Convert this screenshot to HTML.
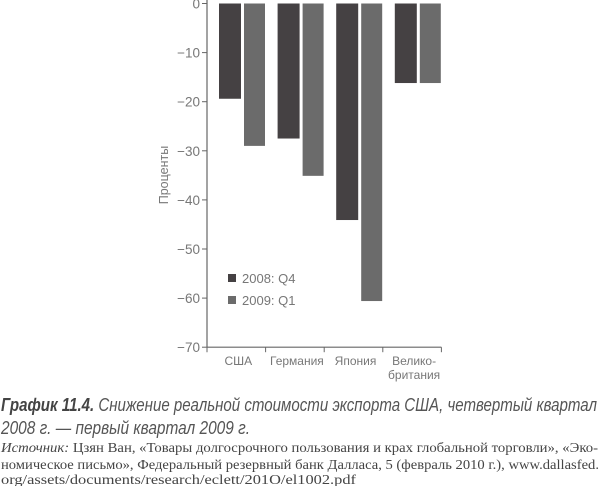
<!DOCTYPE html>
<html><head><meta charset="utf-8"><style>
body{margin:0;width:600px;height:486px;background:#fff;overflow:hidden}
svg text{font-family:"Liberation Sans","DejaVu Sans",sans-serif}
svg text.serif{font-family:"Liberation Serif",serif}
</style></head><body>
<svg id="chart" width="600" height="486" style="position:absolute;left:0;top:0">
<text x="1" y="411" font-size="18" font-style="italic" fill="#555" textLength="596" lengthAdjust="spacingAndGlyphs"><tspan font-weight="bold" fill="#444">График 11.4.</tspan> Снижение реальной стоимости экспорта США, четвертый квартал</text>
<text x="1" y="434" font-size="18" font-style="italic" fill="#555" textLength="249" lengthAdjust="spacingAndGlyphs">2008 г. — первый квартал 2009 г.</text>
<text class="serif" x="1" y="452" font-size="14" fill="#444" textLength="597" lengthAdjust="spacingAndGlyphs"><tspan font-style="italic">Источник:</tspan> Цзян Ван, «Товары долгосрочного пользования и крах глобальной торговли», «Эко-</text>
<text class="serif" x="1" y="469" font-size="14" fill="#444" textLength="598" lengthAdjust="spacingAndGlyphs">номическое письмо», Федеральный резервный банк Далласа, 5 (февраль 2010 г.), www.dallasfed.</text>
<text class="serif" x="1" y="484" font-size="14" fill="#444" textLength="355" lengthAdjust="spacingAndGlyphs">org/assets/documents/research/eclett/201O/el1002.pdf</text>
</svg>
<script>
const categories=[["США"],["Германия"],["Япония"],["Велико-","британия"]];
const q4_2008=[-19.4,-27.5,-44.1,-16.2];
const q1_2009=[-29,-35.1,-60.6,-16.2];
const yTicks=[0,-10,-20,-30,-40,-50,-60,-70];
const NS="http://www.w3.org/2000/svg";
const svg=document.getElementById('chart');
const x0=207,bandW=58.6,y0=3.5,pxPer=4.91;
const y=v=>y0-v*pxPer;
const xb=i=>x0+i*bandW;
function mk(t,a){const e=document.createElementNS(NS,t);for(const k in a)e.setAttribute(k,a[k]);svg.appendChild(e);return e;}
categories.forEach((c,i)=>{
  let r=mk('rect',{x:xb(i)+12,y:y(0),width:22,height:y(q4_2008[i])-y(0),fill:'#454143'});
  
  
  r=mk('rect',{x:xb(i)+37,y:y(0),width:21,height:y(q1_2009[i])-y(0),fill:'#6b6b6b'});
  
  
  c.forEach((l,j)=>{const t=mk('text',{x:xb(i)+bandW/2+2,y:365+j*14,'text-anchor':'middle','font-size':12,fill:'#777'});t.textContent=l;
  
  });
});
let ax=mk('line',{x1:x0,y1:0,x2:x0,y2:y(-70),stroke:'#666','stroke-width':1.2});


ax=mk('line',{x1:x0,y1:y(-70),x2:xb(4),y2:y(-70),stroke:'#666','stroke-width':1.2});


for(let i=0;i<=4;i++){mk('line',{x1:xb(i),y1:y(-70),x2:xb(i),y2:y(-70)+5,stroke:'#666'});}
yTicks.forEach(v=>{
  mk('line',{x1:x0-5,y1:y(v),x2:x0,y2:y(v),stroke:'#666'});
  const t=mk('text',{x:x0-7,y:y(v)+5,'text-anchor':'end','font-size':13.5,fill:'#777'});
  t.textContent=v===0?'0':'−'+Math.abs(v);
  
  
});
const yt=mk('text',{x:168,y:175,'text-anchor':'middle','font-size':12.5,fill:'#777',transform:'rotate(-90 168 175)'});
yt.textContent='Проценты';


[['2008: Q4','#454143',278],['2009: Q1','#6b6b6b',300]].forEach(([l,c,yy])=>{
  const g=mk('g',{});
  
  
  const r=document.createElementNS(NS,'rect');r.setAttribute('x',228);r.setAttribute('y',yy-4);r.setAttribute('width',8);r.setAttribute('height',8);r.setAttribute('fill',c);g.appendChild(r);
  const t=document.createElementNS(NS,'text');t.setAttribute('x',242);t.setAttribute('y',yy+5);t.setAttribute('font-size',13);t.setAttribute('fill','#777');t.textContent=l;g.appendChild(t);
});
</script>
</body></html>
